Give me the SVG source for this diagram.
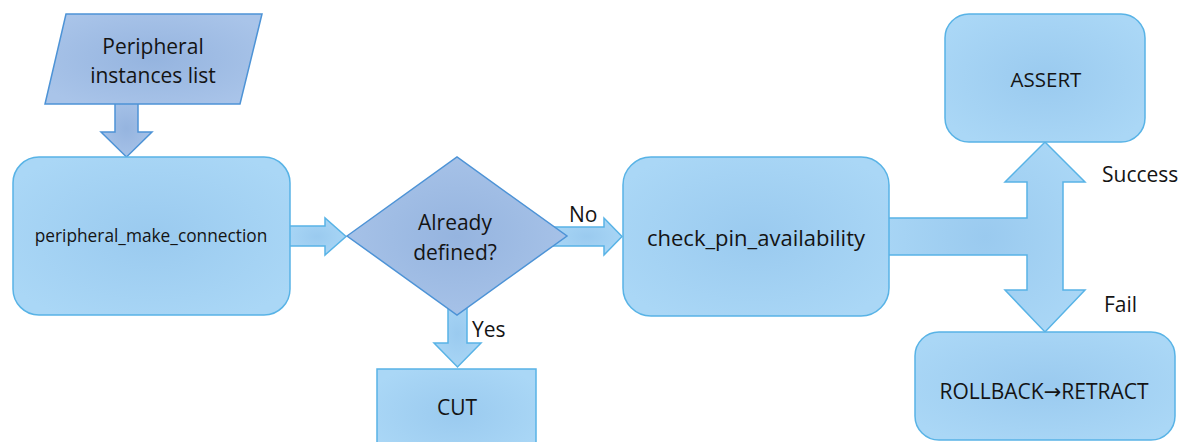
<svg xmlns="http://www.w3.org/2000/svg" width="1192" height="442" viewBox="0 0 1192 442">
  <defs>
    <radialGradient id="skyFill" cx="50%" cy="50%" r="60%">
      <stop offset="0" stop-color="#9acaef"/>
      <stop offset="1" stop-color="#aad7f6"/>
    </radialGradient>
    <radialGradient id="slateFill" cx="50%" cy="50%" r="60%">
      <stop offset="0" stop-color="#95b4df"/>
      <stop offset="1" stop-color="#a9c4e9"/>
    </radialGradient>
    <style>
      .box { fill: url(#skyFill); stroke: #58b3e6; stroke-width: 1.5; }
      .io { fill: url(#slateFill); stroke: #4d93d6; stroke-width: 1.5; }
      .flow { fill: url(#skyFill); stroke: #58b3e6; stroke-width: 1.5; stroke-linejoin: miter; }
      .flow-dark { fill: url(#slateFill); stroke: #4d93d6; stroke-width: 1.5; }
      text { font-family: "Open Sans", "Liberation Sans", "DejaVu Sans", sans-serif; fill: #141414; }
      .lbl { text-anchor: middle; font-size: 21px; }
      .edge { font-size: 21px; }
      .arrow-glyph { font-family: "DejaVu Sans", sans-serif; }
    </style>
  </defs>

  <rect width="1192" height="442" fill="#ffffff"/>

  <!-- block arrows between steps -->
  <g id="connectors">
    <polygon class="flow-dark" points="115,100 138,100 138,132 152,132 126.5,157 101,132 115,132"/>
    <polygon class="flow" points="288,226 325,226 325,218 346,236.5 325,255 325,246 288,246"/>
    <polygon class="flow" points="552,227 604,227 604,218 622,236.5 604,255 604,246 552,246"/>
    <polygon class="flow" points="448,300 467,300 467,343 481,343 457.5,367 434,343 448,343"/>
    <polygon class="flow" points="886,218 1027,218 1027,182 1005,182 1045,142 1085,182 1063,182 1063,290 1085,290 1045,332 1005,290 1027,290 1027,255 886,255"/>
    <text class="edge" x="569" y="222">No</text>
    <text class="edge" x="472" y="337">Yes</text>
    <text class="edge" x="1102" y="182">Success</text>
    <text class="edge" x="1104" y="312">Fail</text>
  </g>

  <g id="peripheral-list">
    <polygon class="io" points="66,14 262,14 240,104 45,104"/>
    <text class="lbl" x="153" y="54">Peripheral</text>
    <text class="lbl" x="153" y="83">instances list</text>
  </g>

  <g id="make-connection">
    <rect class="box" x="13" y="157" width="277" height="158" rx="26"/>
    <text class="lbl" x="151" y="242" style="font-size:17.3px">peripheral_make_connection</text>
  </g>

  <g id="already-defined">
    <polygon class="io" points="347,236 457,157 567,236 457,315"/>
    <text class="lbl" x="455" y="230">Already</text>
    <text class="lbl" x="455" y="260">defined?</text>
  </g>

  <g id="cut">
    <rect class="box" x="377" y="369" width="159" height="90"/>
    <text class="lbl" x="457" y="415">CUT</text>
  </g>

  <g id="check-pin">
    <rect class="box" x="623" y="157" width="266" height="159" rx="28"/>
    <text class="lbl" x="756" y="246" style="font-size:22px">check_pin_availability</text>
  </g>

  <g id="assert">
    <rect class="box" x="945" y="14" width="200" height="128" rx="24"/>
    <text class="lbl" x="1046" y="87" style="font-size:20.5px">ASSERT</text>
  </g>

  <g id="rollback">
    <rect class="box" x="915" y="332" width="260" height="108" rx="24"/>
    <text class="lbl" x="1044" y="399">ROLLBACK<tspan class="arrow-glyph">→</tspan>RETRACT</text>
  </g>
</svg>
